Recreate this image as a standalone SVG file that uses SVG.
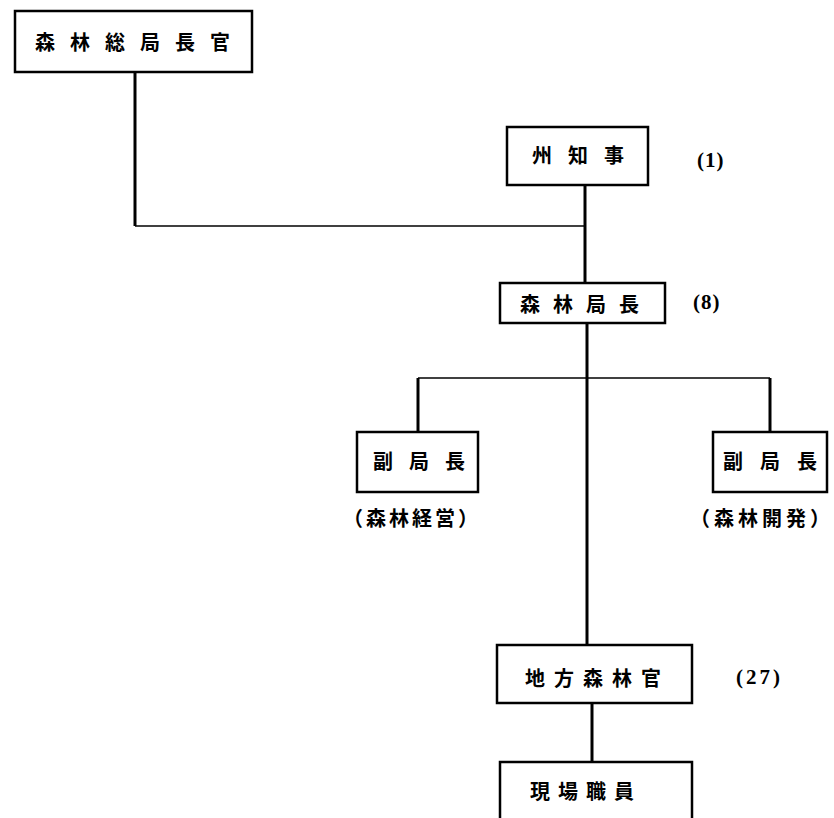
<svg xmlns="http://www.w3.org/2000/svg" width="834" height="818" viewBox="0 0 834 818">
<style>
.box{fill:#fff;stroke:#000;stroke-width:2.5}
.t{font-family:"Noto Sans CJK JP","Noto Sans CJK SC",sans-serif;font-weight:bold;font-size:20px;fill:#000;dominant-baseline:central}
.n{font-family:"Liberation Serif",serif;font-weight:bold;font-size:21px;fill:#000;dominant-baseline:central}
.c{fill:none;stroke:#000;stroke-width:3}
.h{fill:none;stroke:#000;stroke-width:1.6}
</style>
<rect width="834" height="818" fill="#fff"/>
<g id="connectors">
<path class="c" d="M135 72V226"/>
<path class="h" d="M135 226H586"/>
<path class="c" d="M585 185V283"/>
<path class="c" d="M587 323V645"/>
<path class="h" d="M418 378H770"/>
<path class="c" d="M418 378V432"/>
<path class="c" d="M770 378V432"/>
<path class="c" d="M592 703V762"/>
</g>
<g id="n1"><rect class="box" x="15" y="11" width="237" height="61"/><text class="t" x="35" y="41" letter-spacing="15">森林総局長官</text></g>
<g id="n2"><rect class="box" x="507" y="127" width="141" height="58"/><text class="t" x="532" y="154" letter-spacing="16">州知事</text><text class="n" x="697" y="160" letter-spacing="1">(1)</text></g>
<g id="n3"><rect class="box" x="500" y="283" width="165" height="40"/><text class="t" x="520" y="303" letter-spacing="13">森林局長</text><text class="n" x="693" y="302" letter-spacing="1">(8)</text></g>
<g id="n4"><rect class="box" x="357" y="432" width="121" height="60"/><text class="t" x="343" y="517" font-size="19" letter-spacing="3">（森林経営）</text><text class="t" x="373" y="460" letter-spacing="16">副局長</text></g>
<g id="n5"><rect class="box" x="713" y="432" width="114" height="60"/><text class="t" x="723" y="460" letter-spacing="17">副局長</text><text class="t" x="690" y="517" font-size="19" letter-spacing="4">（森林開発）</text></g>
<g id="n6"><rect class="box" x="497" y="645" width="195" height="58"/><text class="t" x="525" y="677" letter-spacing="9">地方森林官</text><text class="n" x="736" y="677" letter-spacing="3">(27)</text></g>
<g id="n7"><rect class="box" x="500" y="762" width="192" height="70"/><text class="t" x="530" y="790" letter-spacing="8">現場職員</text></g>
</svg>
